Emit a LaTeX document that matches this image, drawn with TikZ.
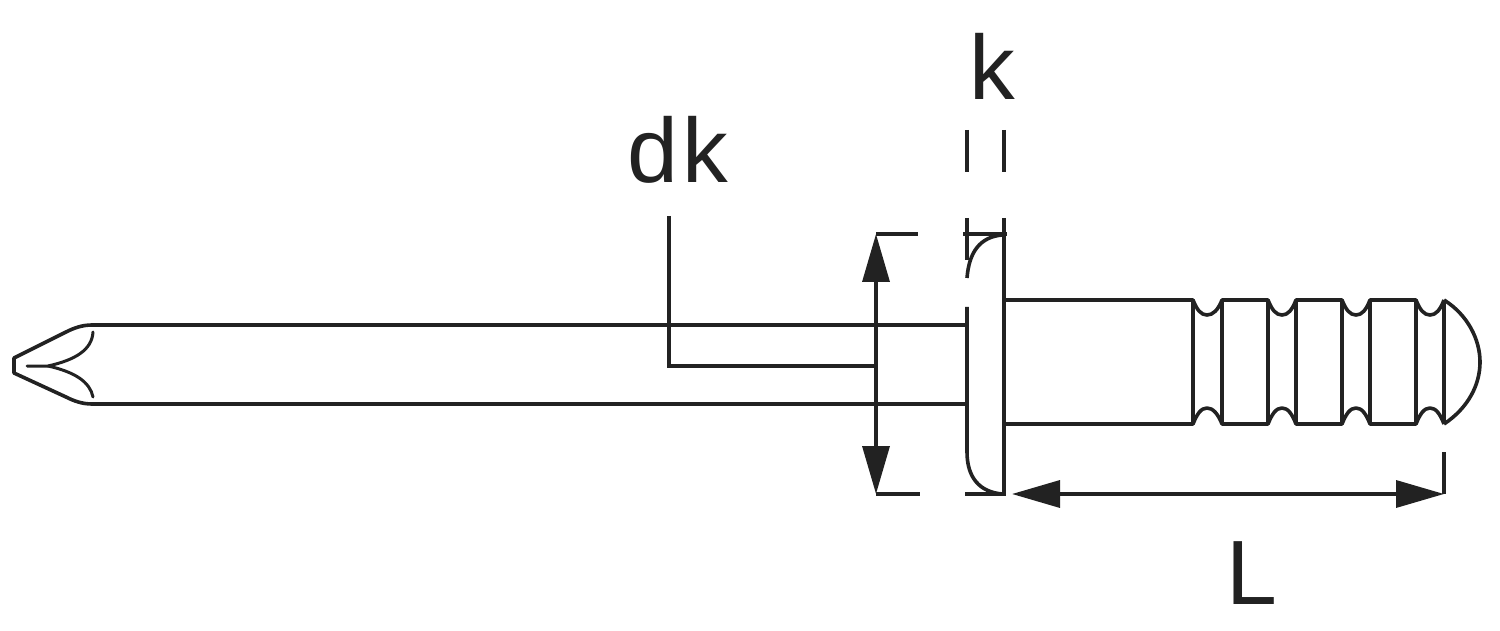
\documentclass[tikz,border=0pt]{standalone}
\usepackage{fontspec}
\setmainfont{Liberation Sans}
\usetikzlibrary{arrows.meta}
\definecolor{ink}{HTML}{222222}
\tikzset{
  px/.style={x=0.02cm,y=-0.02cm},
  part/.style={draw=ink,line width=0.072cm,line join=round},
  thin part/.style={draw=ink,line width=0.06cm,line join=round,line cap=round},
  dim/.style={draw=ink,line width=0.07cm},
  dim arrow/.style={dim,{Triangle[length=0.96cm,width=0.54cm,color=ink]}-{Triangle[length=0.96cm,width=0.54cm,color=ink]},shorten <=0pt,shorten >=0pt},
  lbl/.style={text=ink,inner sep=0pt,anchor=base,font=\fontsize{52}{52}\selectfont}
}
\begin{document}
\begin{tikzpicture}[px]
\useasboundingbox (0,0) rectangle (1500,631);
% labels
\node[lbl] (lblk) at (992,100) {k};
\node[lbl] (lbldk) at (678,183) {d\kern2.5pt k};
\node[lbl] (lblL) at (1252,604) {L};
% shank and tip
\draw[part] (967,325) -- (92,325) .. controls (82,325) and (74,328) .. (66,332) -- (14,358) -- (14,373) -- (66,397) .. controls (74,401) and (82,404) .. (92,404) -- (967,404);
\draw[thin part] (27,366) -- (48,366) .. controls (75,360) and (92,350) .. (93,332);
\draw[thin part] (48,366) .. controls (75,372) and (90,382) .. (93,397);
% head
\draw[part] (967,307) -- (967,452) .. controls (967,478) and (980,492) .. (1002,494);
\draw[part] (967,278) .. controls (969,252) and (980,237) .. (1002,235);
\draw[part] (1004,235) -- (1004,494);
% body
\draw[part] (1004,300) -- (1193,300) .. controls (1197,310) and (1201,315) .. (1207,315) .. controls (1213,315) and (1218,310) .. (1222,300)
  -- (1268,300) .. controls (1272,310) and (1276,315) .. (1282,315) .. controls (1288,315) and (1292,310) .. (1296,300)
  -- (1342,300) .. controls (1346,310) and (1350,315) .. (1356,315) .. controls (1362,315) and (1366,310) .. (1370,300)
  -- (1416,300) .. controls (1420,310) and (1424,315) .. (1430,315) .. controls (1436,315) and (1440,310) .. (1444,300);
\draw[part] (1004,424) -- (1193,424) .. controls (1197,414) and (1201,408) .. (1207,408) .. controls (1213,408) and (1218,414) .. (1222,424)
  -- (1268,424) .. controls (1272,414) and (1276,408) .. (1282,408) .. controls (1288,408) and (1292,414) .. (1296,424)
  -- (1342,424) .. controls (1346,414) and (1350,408) .. (1356,408) .. controls (1362,408) and (1366,414) .. (1370,424)
  -- (1416,424) .. controls (1420,414) and (1424,408) .. (1430,408) .. controls (1436,408) and (1440,414) .. (1444,424);
\foreach \gx in {1193,1222,1268,1296,1342,1370,1416}
  \draw[part] (\gx,300) -- (\gx,424);
\draw[draw=ink,line width=0.09cm] (1444,300) -- (1444,424);
\draw[part] (1444,300) .. controls (1468,315) and (1480,340) .. (1480,362) .. controls (1480,385) and (1468,408) .. (1444,424);
% k dimension
\draw[dim] (967,130) -- (967,172);
\draw[dim] (1004,130) -- (1004,172);
\draw[dim] (967,218) -- (967,260);
\draw[dim] (1004,218) -- (1004,260);
\draw[dim] (963,234) -- (1007,234);
% dk dimension
\coordinate (dktop) at (876,234);
\coordinate (dkbot) at (876,494);
\coordinate (dkmid) at (876,366);
\coordinate (leader) at (669,216);
\draw[dim] (dktop) -- (918,234);
\draw[dim] (dkbot) -- (920,494);
\draw[dim arrow] (dktop) -- (dkbot);
\draw[dim] (leader) |- (dkmid);
\draw[dim] (965,494) -- (1006,494);
% L dimension
\coordinate (Lleft) at (1012,494);
\coordinate (Lright) at (1444,494);
\coordinate (Lext) at (1444,452);
\draw[dim arrow] (Lleft) -- (Lright);
\draw[dim] (Lext) -- (Lright);
\end{tikzpicture}
\end{document}
